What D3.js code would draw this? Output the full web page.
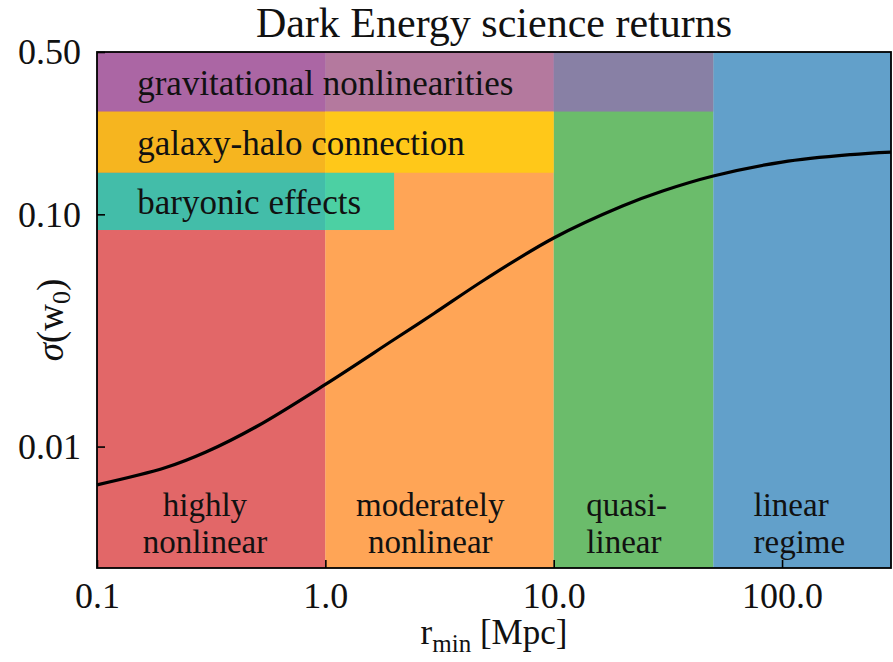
<!DOCTYPE html>
<meta charset="utf-8">
<script src="https://d3js.org/d3.v7.min.js"></script>
<style>
  body { margin: 0; background: #fff; }
  text { font-family: "Liberation Serif", serif; fill: #111; }
</style>
<div id="chart"></div>
<script>
  // curve: sigma(w0) vs minimum scale
  var rMin = [0.1, 0.2, 0.3, 0.5, 1, 2, 3, 5, 10, 20, 30, 50, 100, 200, 300];
  var sigmaW0 = [0.00684, 0.00812, 0.00947, 0.0122, 0.01852, 0.0289, 0.0375, 0.0524, 0.0791, 0.1086, 0.1260, 0.1462, 0.1679, 0.1808, 0.1854];

  // regimes (vertical spans)
  var regimeLines = [["highly", "nonlinear"], ["moderately", "nonlinear"], ["quasi-", "linear"], ["linear", "regime"]];
  var regimeFrom = [0.1, 1, 10, 50];
  var regimeTo = [1, 10, 50, 300];
  var regimeColors = ["#d62728", "#ff7f0e", "#2ca02c", "#1f77b4"];
  var regimeLabelX = [0.297, 2.88, 13.9, 75];
  var regimeAnchor = ["middle", "middle", "start", "start"];
  var regimeLabelY = 0.005;

  // systematics bands (horizontal spans)
  var bandNames = ["gravitational nonlinearities", "galaxy-halo connection", "baryonic effects"];
  var bandTo = [50, 10, 2];
  var bandLow = [0.277, 0.151, 0.0856];
  var bandHigh = [0.5, 0.277, 0.151];
  var bandColors = ["#9467bd", "#ffd700", "#00e2c4"];
  var bandLabelX = 0.15;
  var bandLabelY = [0.326, 0.18, 0.1];

  // ticks
  var xTicks = [0.1, 1, 10, 100];
  var xTickLabels = ["0.1", "1.0", "10.0", "100.0"];
  var yTicks = [0.01, 0.1, 0.5];
  var yTickLabels = ["0.01", "0.10", "0.50"];

  var margin = {top: 52, right: 2, bottom: 94, left: 97},
    width = 893 - margin.left - margin.right,
    height = 662 - margin.top - margin.bottom;

  var svg = d3.select("#chart")
    .append("svg")
      .attr("width", 893)
      .attr("height", 662)
    .append("g")
      .attr("transform", "translate(" + margin.left + "," + margin.top + ")");

  var x = d3.scaleLog().domain([0.1, 300]).range([0, width]);
  var y = d3.scaleLog().domain([0.003, 0.5]).range([height, 0]);

  // regime spans
  svg.selectAll(".regime")
    .data(regimeFrom)
    .enter()
    .append("rect")
      .attr("x", function(d) { return x(d) })
      .attr("y", 0)
      .attr("width", function(d, i) { return x(regimeTo[i]) - x(d) })
      .attr("height", height)
      .style("fill", function(d, i) { return regimeColors[i] })
      .style("opacity", 0.7);

  // bands
  svg.selectAll(".band")
    .data(bandNames)
    .enter()
    .append("rect")
      .attr("x", x(0.1))
      .attr("y", function(d, i) { return y(bandHigh[i]) })
      .attr("width", function(d, i) { return x(bandTo[i]) - x(0.1) })
      .attr("height", function(d, i) { return y(bandLow[i]) - y(bandHigh[i]) })
      .style("fill", function(d, i) { return bandColors[i] })
      .style("opacity", 0.7);

  svg.selectAll(".bandlabel")
    .data(bandNames)
    .enter()
    .append("text")
      .attr("x", x(bandLabelX))
      .attr("y", function(d, i) { return y(bandLabelY[i]) })
      .style("font-size", "35px")
      .text(function(d) { return d });

  // regime labels, one text per line
  regimeLines.forEach(function(lines, i) {
    lines.forEach(function(s, j) {
      svg.append("text")
        .attr("x", x(regimeLabelX[i]))
        .attr("y", y(regimeLabelY) + j * 36.5)
        .attr("text-anchor", regimeAnchor[i])
        .style("font-size", "33px")
        .text(s);
    });
  });

  // the curve
  var line = d3.line()
    .x(function(d) { return x(d[0]) })
    .y(function(d) { return y(d[1]) })
    .curve(d3.curveCatmullRom.alpha(0.5));

  svg.append("path")
    .datum(rMin.map(function(r, i) { return [r, sigmaW0[i]] }))
    .attr("d", line)
    .style("fill", "none")
    .style("stroke", "#000")
    .style("stroke-width", 3.2);

  // minor ticks
  var xMinor = [], yMinor = [];
  [0.1, 1, 10, 100].forEach(function(dec) {
    for (var k = 2; k <= 9; k++) if (dec * k <= 300) xMinor.push(dec * k);
  });
  [0.001, 0.01, 0.1].forEach(function(dec) {
    for (var k = 2; k <= 9; k++) if (dec * k >= 0.003 && dec * k < 0.5) yMinor.push(dec * k);
  });

  var gx = svg.append("g").attr("transform", "translate(0," + height + ")");
  gx.call(d3.axisBottom(x).tickValues(xMinor).tickSize(-4.5).tickFormat(""));
  gx.call(d3.axisBottom(x).tickValues(xTicks).tickSize(-8).tickPadding(14)
    .tickFormat(function(d, i) { return xTickLabels[i] }));

  var gy = svg.append("g");
  gy.call(d3.axisLeft(y).tickValues(yMinor).tickSize(-4.5).tickFormat(""));
  gy.call(d3.axisLeft(y).tickValues(yTicks).tickSize(-8).tickPadding(16)
    .tickFormat(function(d, i) { return yTickLabels[i] }));

  svg.selectAll(".domain").remove();
  svg.selectAll(".tick line").style("stroke", "#000").style("stroke-width", 1.6);
  svg.selectAll(".tick text")
    .style("font-family", "Liberation Serif, serif")
    .style("font-size", "36px")
    .style("fill", "#111");
  gy.selectAll(".tick text").attr("dy", "0.33em");
  gx.selectAll(".tick text").attr("dy", "0.71em");

  // frame
  svg.append("rect")
    .attr("width", width)
    .attr("height", height)
    .style("fill", "none")
    .style("stroke", "#000")
    .style("stroke-width", 1.8);

  // title
  svg.append("text")
    .attr("x", width / 2)
    .attr("y", -15)
    .attr("text-anchor", "middle")
    .style("font-size", "42px")
    .text("Dark Energy science returns");

  // x label
  var xl = svg.append("text")
    .attr("x", width / 2)
    .attr("y", height + 76)
    .attr("text-anchor", "middle")
    .style("font-size", "35px");
  xl.append("tspan").text("r");
  xl.append("tspan").attr("dy", 8).style("font-size", "25px").text("min");
  xl.append("tspan").attr("dy", -8).text(" [Mpc]");

  // y label
  var yl = svg.append("text")
    .attr("transform", "translate(" + (-34) + "," + (height / 2 + 10) + ") rotate(-90)")
    .attr("text-anchor", "middle")
    .style("font-size", "37px");
  yl.append("tspan").style("font-style", "italic").text("σ");
  yl.append("tspan").text("(w");
  yl.append("tspan").attr("dy", 7).style("font-size", "26px").text("0");
  yl.append("tspan").attr("dy", -7).text(")");
</script>
